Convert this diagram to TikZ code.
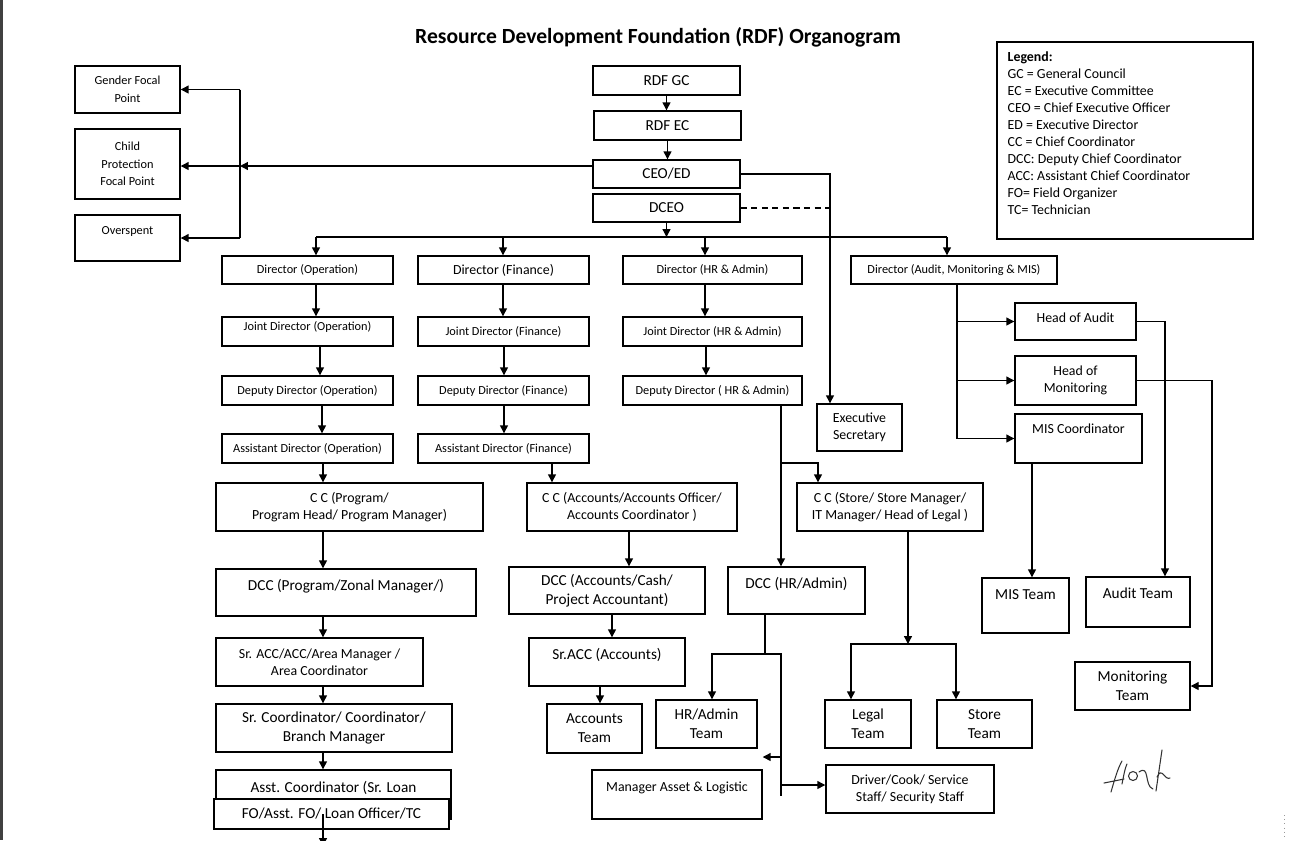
\documentclass[tikz,border=0pt]{standalone}
\usepackage{fontspec}
\setmainfont{Carlito}
\usetikzlibrary{arrows.meta,positioning,calc}

\begin{document}
\begin{tikzpicture}[x=0.02cm,y=-0.02cm,
  sz/.style 2 args={minimum width=#1*0.02cm,minimum height=#2*0.02cm},
  up/.style={text depth=#1}]
  \tikzstyle{box}=[draw,line width=0.8pt,inner sep=1pt,align=center,fill=white]
  \tikzstyle{sml}=[font=\fontsize{7}{10}\selectfont]
  \tikzstyle{med}=[font=\fontsize{7.9}{9.7}\selectfont]
  \tikzstyle{big}=[font=\fontsize{8.7}{10.8}\selectfont]
  \tikzstyle{ln}=[line width=0.7pt]
  \tikzstyle{arr}=[line width=0.7pt,-{Triangle[length=4.5pt,width=4.5pt]}]

  \useasboundingbox (0,0) rectangle (1313,840);
  \fill[black!75] (0,0) rectangle (3,840);

  % title and legend
  \node[font=\bfseries\fontsize{12.3}{14}\selectfont] (title) at (658,37) {Resource Development Foundation (RDF) Organogram};
  \node[box,sz={256}{197}] (legend) at (1125,140.5) {};
  \node[med,align=left,inner sep=0pt,anchor=north west] (legtext) at ([shift={(11,10)}]legend.north west)
    {\textbf{Legend:}\\GC = General Council\\EC = Executive Committee\\CEO = Chief Executive Officer\\ED = Executive Director\\CC = Chief Coordinator\\DCC: Deputy Chief Coordinator\\ACC: Assistant Chief Coordinator\\FO= Field Organizer\\TC= Technician};

  % top of the chart
  \node[box,big,sz={147}{29}] (gc) at (666.5,80.5) {RDF GC};
  \node[box,big,sz={147}{29}] (ec) at (667.5,125.5) {RDF EC};
  \node[box,big,sz={147}{28}] (ceo) at (666.5,174) {CEO/ED};
  \node[box,big,sz={147}{28}] (dceo) at (666.5,208) {DCEO};

  % focal points
  \node[box,sml,sz={105}{47}] (gender) at (127.5,89.5) {Gender Focal\\Point};
  \node[box,sml,sz={105}{70}] (child) at (127.5,164) {Child\\Protection\\Focal Point};
  \node[box,sml,sz={105}{46},up=9.1pt] (overspent) at (127.5,238) {Overspent};

  % directors
  \node[box,sml,sz={171}{28}] (dirop) at (307.5,270) {Director (Operation)};
  \node[box,med,sz={171}{28}] (dirfin) at (503.5,270) {Director (Finance)};
  \node[box,sml,sz={179}{28}] (dirhr) at (712.5,270) {Director (HR \& Admin)};
  \node[box,sml,sz={206}{28}] (diraud) at (954,270) {Director (Audit, Monitoring \& MIS)};

  \node[box,sml,sz={171}{29},up=6.2pt] (jop) at (307.5,331.5) {Joint Director (Operation)};
  \node[box,sml,sz={171}{29}] (jfin) at (503.5,331.5) {Joint Director (Finance)};
  \node[box,sml,sz={179}{29}] (jhr) at (712.5,331.5) {Joint Director (HR \& Admin)};

  \node[box,sml,sz={171}{29}] (dop) at (307.5,390.5) {Deputy Director (Operation)};
  \node[box,sml,sz={171}{29}] (dfin) at (503.5,390.5) {Deputy Director (Finance)};
  \node[box,sml,sz={179}{29}] (dhr) at (712.5,390.5) {Deputy Director ( HR \& Admin)};

  \node[box,sml,sz={171}{29}] (aop) at (307.5,448.5) {Assistant Director (Operation)};
  \node[box,sml,sz={171}{29}] (afin) at (503.5,448.5) {Assistant Director (Finance)};
  \node[box,med,sz={85}{47}] (es) at (859.5,427.5) {Executive\\Secretary};

  % chief coordinators
  \node[box,med,sz={267}{48}] (ccprog) at (349.5,507) {C C (Program/\\Program Head/ Program Manager)};
  \node[box,med,sz={210}{48}] (ccacc) at (632,507) {C C (Accounts/Accounts Officer/\\Accounts Coordinator )};
  \node[box,med,sz={186}{48}] (ccstore) at (890,507) {C C (Store/ Store Manager/\\IT Manager/ Head of Legal )};

  % program line
  \node[box,big,sz={260}{47},up=9.2pt] (dccprog) at (346,592.5) {DCC (Program/Zonal Manager/)};
  \node[box,med,sz={207}{48}] (srcc) at (319.5,662) {Sr. ACC/ACC/Area Manager /\\Area Coordinator};
  \node[box,big,sz={236}{48}] (srcoord) at (334,728) {Sr. Coordinator/ Coordinator/\\Branch Manager};
  \node[box,big,sz={235}{49},up=9.2pt] (asstc) at (333.5,794.5) {Asst. Coordinator (Sr. Loan};
  \node[box,big,sz={235}{30}] (fo) at (331.5,814) {FO/Asst. FO/ Loan Officer/TC};

  % accounts line
  \node[box,big,sz={196}{47}] (dccacc) at (607,590.5) {DCC (Accounts/Cash/\\Project Accountant)};
  \node[box,big,sz={156}{48},up=9.2pt] (sracc) at (607,662) {Sr.ACC (Accounts)};
  \node[box,big,sz={95}{49}] (accteam) at (594.5,728.5) {Accounts\\Team};

  % hr and store line
  \node[box,big,sz={137}{47},up=9.2pt] (dcchr) at (796.5,590.5) {DCC (HR/Admin)};
  \node[box,big,sz={101}{48}] (hrteam) at (706.5,724) {HR/Admin\\Team};
  \node[box,med,sz={170}{49},up=8.5pt] (mal) at (677,794.5) {Manager Asset \& Logistic};
  \node[box,med,sz={168}{48}] (driver) at (910,789) {Driver/Cook/ Service\\Staff/ Security Staff};
  \node[box,big,sz={86}{48}] (legal) at (868,724) {Legal\\Team};
  \node[box,big,sz={95}{48}] (store) at (984.5,724) {Store\\Team};

  % audit, monitoring and mis
  \node[box,med,sz={121}{37},up=4pt] (hoa) at (1075.5,321.5) {Head of Audit};
  \node[box,med,sz={121}{49}] (hom) at (1075.5,380.5) {Head of\\Monitoring};
  \node[box,med,sz={127}{49},up=11pt] (misc) at (1078.5,438.5) {MIS Coordinator};
  \node[box,big,sz={87}{55},up=12pt] (misteam) at (1025.5,605.5) {MIS Team};
  \node[box,big,sz={104}{50},up=10.2pt] (audteam) at (1138,602) {Audit Team};
  \node[box,big,sz={115}{48}] (monteam) at (1132.5,686) {Monitoring\\Team};

  % connectors at the top
  \draw[arr] (gc.south) -- (gc.south |- ec.north);
  \draw[arr] (ec.south) -- (ec.south |- ceo.north);
  \coordinate (lbus) at (240,166);
  \draw[arr] (ceo.west |- lbus) -- (lbus);
  \draw[ln] (lbus |- gender.east) -- (lbus |- overspent.east);
  \draw[arr] (lbus |- gender.east) -- (gender.east);
  \draw[arr] (lbus) -- (child.east |- lbus);
  \draw[arr] (lbus |- overspent.east) -- (overspent.east);
  \draw[arr] (ceo.east) -| (es.north -| 830,0);
  \draw[ln,dash pattern=on 3.5pt off 2.5pt] (dceo.east) -- (dceo.east -| 830,0);

  \coordinate (bus) at (665,237);
  \draw[arr] (dceo.south) -- (dceo.south |- bus);
  \draw[ln] (316,0 |- bus) -- (947,0 |- bus);
  \draw[arr] (316,0 |- bus) -- (316,0 |- dirop.north);
  \draw[arr] (503,0 |- bus) -- (503,0 |- dirfin.north);
  \draw[arr] (705,0 |- bus) -- (705,0 |- dirhr.north);
  \draw[arr] (947,0 |- bus) -- (947,0 |- diraud.north);

  % operation column
  \draw[arr] (316,0 |- dirop.south) -- (316,0 |- jop.north);
  \draw[arr] (320,0 |- jop.south) -- (320,0 |- dop.north);
  \draw[arr] (322,0 |- dop.south) -- (322,0 |- aop.north);
  \draw[arr] (323,0 |- aop.south) -- (323,0 |- ccprog.north);
  \draw[arr] (323,0 |- ccprog.south) -- (323,0 |- dccprog.north);
  \draw[arr] (323,0 |- dccprog.south) -- (323,0 |- srcc.north);
  \draw[arr] (323,0 |- srcc.south) -- (323,0 |- srcoord.north);
  \draw[arr] (323,0 |- srcoord.south) -- (323,0 |- asstc.north);
  \coordinate (bottom) at (323,846);
  \draw[arr] (fo.center -| bottom) -- (bottom);

  % finance column
  \draw[arr] (503,0 |- dirfin.south) -- (503,0 |- jfin.north);
  \draw[arr] (504,0 |- jfin.south) -- (504,0 |- dfin.north);
  \draw[arr] (504,0 |- dfin.south) -- (504,0 |- afin.north);
  \draw[arr] (552,0 |- afin.south) -- (552,0 |- ccacc.north);
  \draw[arr] (629,0 |- ccacc.south) -- (629,0 |- dccacc.north);
  \draw[arr] (612,0 |- dccacc.south) -- (612,0 |- sracc.north);
  \draw[arr] (600,0 |- sracc.south) -- (600,0 |- accteam.north);

  % hr column
  \draw[arr] (705,0 |- dirhr.south) -- (705,0 |- jhr.north);
  \draw[arr] (706,0 |- jhr.south) -- (706,0 |- dhr.north);
  \coordinate (hrv) at (781,463);
  \draw[arr] (hrv |- dhr.south) -- (hrv |- dcchr.north);
  \draw[arr] (hrv) -| (818,0 |- ccstore.north);
  \coordinate (hrj) at (765,654);
  \coordinate (hrk) at (781,654);
  \draw[ln] (hrj |- dcchr.south) -- (hrj);
  \draw[arr] (hrj) -| (712,0 |- hrteam.north);
  \draw[ln] (hrj) -- (hrk) -- ++(0,142);
  \draw[arr] (hrk |- 0,757) -- (mal.east |- 0,757);
  \draw[arr] (hrk |- 0,785) -- (driver.west |- 0,785);

  % store branch
  \coordinate (stj) at (908,644);
  \draw[arr] (stj |- ccstore.south) -- (stj);
  \draw[arr] (stj) -| (851,0 |- legal.north);
  \draw[arr] (stj) -| (956,0 |- store.north);

  % audit branch
  \draw[ln] (957,0 |- diraud.south) -- (957,0 |- misc.west);
  \draw[arr] (957,0 |- hoa.west) -- (hoa.west);
  \draw[arr] (957,0 |- hom.west) -- (hom.west);
  \draw[arr] (957,0 |- misc.west) -- (misc.west);
  \draw[arr] (hoa.east) -| (1165,0 |- audteam.north);
  \draw[arr] (hom.east) -| (1212,0 |- monteam.east) -- (monteam.east);
  \draw[arr] (1032,0 |- misc.south) -- (1032,0 |- misteam.north);

  % signature
  \draw[line width=0.6pt,black!80,line cap=round]
    (1104,783) -- (1124,779)
    (1111,792) .. controls (1115,778) and (1118,768) .. (1122,761)
    (1122,784) .. controls (1124,774) and (1125,768) .. (1127,764)
    (1133,776) circle (4.5)
    (1139,772) .. controls (1150,764) and (1144,786) .. (1153,789)
    (1162,750) -- (1156,791)
    (1157,777) .. controls (1162,766) and (1165,781) .. (1170,778);
  \draw[dotted,black!40] (1284,815) -- (1284,840);
\end{tikzpicture}
\end{document}
